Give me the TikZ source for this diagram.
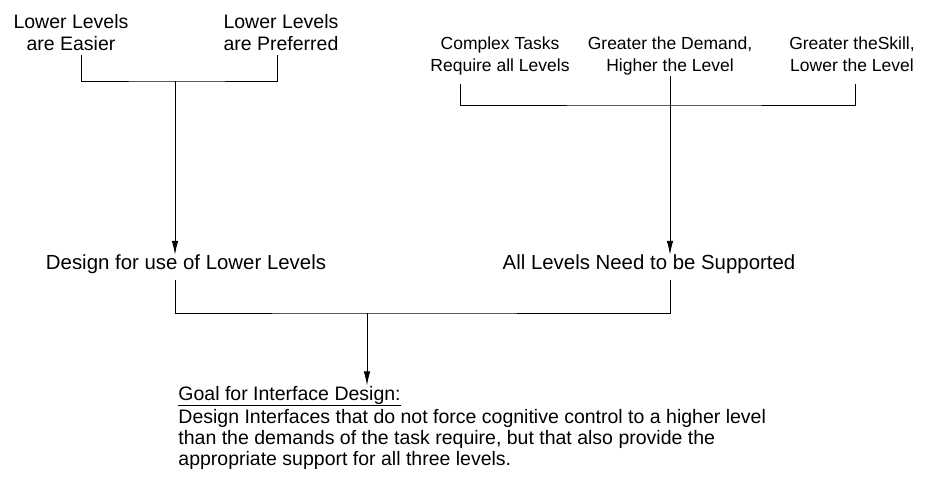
\documentclass[tikz,border=0pt]{standalone}
\usepackage{fontspec}
\setmainfont{Liberation Sans}
\usetikzlibrary{arrows.meta}
\begin{document}
\begin{tikzpicture}[x=1pt,y=-1pt,line width=0.9pt,
    lbl/.style={align=center,inner sep=0pt,anchor=north,font=\fontsize{19.5}{22}\selectfont},
    rlbl/.style={align=center,inner sep=0pt,anchor=north,font=\fontsize{17.5}{22}\selectfont},
    mid/.style={inner sep=0pt,anchor=base,font=\fontsize{20.4}{22}\selectfont},
    arr/.style={-{Latex[length=14pt,width=6.5pt]}}]
		\useasboundingbox (0,0) rectangle (929,486);
		% top labels
		\node[lbl] (easy) at (71,13.5) {Lower Levels\\are Easier};
		\node[lbl] (pref) at (281,13.5) {Lower Levels\\are Preferred};
		\node[rlbl] (cplx) at (500,36.5) {Complex Tasks\\Require all Levels};
		\node[rlbl] (dmnd) at (670,36.5) {Greater the Demand,\\Higher the Level};
		\node[rlbl] (skll) at (852,36.5) {Greater theSkill,\\Lower the Level};
		% middle labels
		\node[mid] (lowr) at (186,270) {Design for use of Lower Levels};
		\node[mid] (allv) at (649,270) {All Levels Need to be Supported};
		% goal
		\node[inner sep=0pt,anchor=base west,font=\fontsize{19.5}{21}\selectfont] (goal) at (178,400)
			{\underline{Goal for Interface Design:}};
		\node[inner sep=0pt,anchor=north west,align=left,font=\fontsize{19.5}{21}\selectfont] (desc) at (178,408.5)
			{Design Interfaces that do not force cognitive control to a higher level\\
			than the demands of the task require, but that also provide the\\
			appropriate support for all three levels.};
		% left bracket
		\coordinate (ea) at (81,55);
		\coordinate (pa) at (277,55);
		\coordinate (lj) at (175,81);
		\draw (ea) |- (lj) -| (pa);
		\draw[arr] (lj) -- (lowr.north -| lj);
		% right bracket
		\coordinate (ca) at (460,84);
		\coordinate (sa) at (855,84);
		\coordinate (rj) at (670,105);
		\draw (ca) |- (rj) -| (sa);
		\draw[arr] (dmnd.south -| rj) -- (allv.north -| rj);
		% bottom bracket
		\coordinate (lb) at (175,280);
		\coordinate (rb) at (670,280);
		\coordinate (mj) at (367,313);
		\draw (lb) |- (mj) -| (rb);
		\draw[arr] (mj) -- (goal.north -| mj);
\end{tikzpicture}
\end{document}
